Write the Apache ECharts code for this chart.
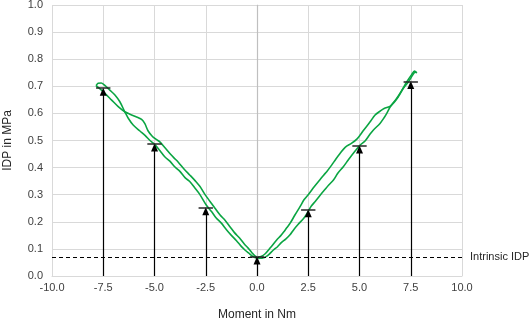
<!DOCTYPE html>
<html>
<head>
<meta charset="utf-8">
<script src="https://cdn.jsdelivr.net/npm/echarts@6/dist/echarts.min.js"></script>
<style>
html,body{margin:0;padding:0;background:#fff;}
#chart{width:532px;height:318px;}
</style>
</head>
<body>
<div id="chart"></div>
<script>
// Axis ranges / ticks
var xTicks = [-10, -7.5, -5, -2.5, 0, 2.5, 5, 7.5, 10];
var yTicks = [0, 0.1, 0.2, 0.3, 0.4, 0.5, 0.6, 0.7, 0.8, 0.9, 1.0];

// Inner (lower) loop branch: left tip -> bottom -> right tip  [moment Nm, IDP MPa]
var curveInner = [
  [-7.85, 0.702], [-7.75, 0.711], [-7.6, 0.712], [-7.45, 0.705], [-7.18, 0.686],
  [-6.93, 0.668], [-6.69, 0.643], [-6.45, 0.606], [-6.28, 0.582], [-6.04, 0.557],
  [-5.71, 0.535], [-5.45, 0.518], [-5.22, 0.500], [-4.98, 0.485], [-4.74, 0.463],
  [-4.5, 0.440], [-4.25, 0.424], [-4.0, 0.402], [-3.76, 0.386], [-3.5, 0.362],
  [-3.27, 0.348], [-3.0, 0.322], [-2.8, 0.302], [-2.46, 0.260], [-2.2, 0.236],
  [-2.0, 0.215], [-1.75, 0.196], [-1.48, 0.170], [-1.25, 0.150], [-1.0, 0.130],
  [-0.8, 0.112], [-0.59, 0.096], [-0.4, 0.084], [-0.2, 0.072], [0.0, 0.066],
  [0.25, 0.066], [0.5, 0.074], [0.8, 0.096], [1.0, 0.108], [1.2, 0.124],
  [1.4, 0.136], [1.61, 0.152], [1.8, 0.172], [2.0, 0.190], [2.3, 0.215],
  [2.45, 0.232], [2.63, 0.256], [2.85, 0.276], [3.08, 0.298], [3.3, 0.318],
  [3.5, 0.336], [3.73, 0.354], [3.95, 0.380], [4.21, 0.403], [4.45, 0.428],
  [4.7, 0.453], [5.03, 0.483], [5.27, 0.498], [5.5, 0.522], [5.68, 0.539],
  [6.0, 0.563], [6.2, 0.584], [6.33, 0.600], [6.53, 0.628], [6.82, 0.656],
  [7.07, 0.686], [7.31, 0.717], [7.55, 0.744], [7.68, 0.756], [7.8, 0.750]
];

// Outer (upper) loop branch: left tip -> bottom -> right tip
var curveOuter = [
  [-7.85, 0.702], [-7.7, 0.693], [-7.42, 0.674], [-7.09, 0.649], [-6.77, 0.625],
  [-6.45, 0.606], [-6.2, 0.597], [-5.9, 0.588], [-5.63, 0.578], [-5.47, 0.562],
  [-5.31, 0.535], [-5.1, 0.515], [-4.9, 0.503], [-4.74, 0.495], [-4.5, 0.474],
  [-4.25, 0.452], [-4.05, 0.436], [-3.84, 0.420], [-3.55, 0.394], [-3.27, 0.372],
  [-3.0, 0.350], [-2.78, 0.330], [-2.55, 0.302], [-2.29, 0.275], [-2.05, 0.250],
  [-1.8, 0.225], [-1.55, 0.205], [-1.32, 0.182], [-1.1, 0.160], [-0.85, 0.140],
  [-0.62, 0.118], [-0.42, 0.102], [-0.25, 0.086], [-0.1, 0.074], [0.05, 0.070],
  [0.2, 0.072], [0.4, 0.082], [0.65, 0.104], [0.96, 0.133], [1.15, 0.148],
  [1.3, 0.162], [1.45, 0.178], [1.61, 0.194], [1.85, 0.225], [2.1, 0.256],
  [2.3, 0.282], [2.5, 0.300], [2.8, 0.330], [3.08, 0.356], [3.25, 0.372],
  [3.4, 0.385], [3.65, 0.410], [3.85, 0.432], [4.05, 0.452], [4.3, 0.475],
  [4.62, 0.490], [4.87, 0.505], [5.05, 0.522], [5.19, 0.537], [5.5, 0.567],
  [5.76, 0.594], [6.0, 0.608], [6.2, 0.618], [6.53, 0.628], [6.9, 0.662],
  [7.14, 0.693], [7.39, 0.717], [7.6, 0.742], [7.71, 0.752], [7.8, 0.750]
];

// Arrow markers: moment and IDP value
var arrowX = [-7.5, -5.0, -2.5, 0.0, 2.5, 5.0, 7.5];
var arrowY = [0.693, 0.487, 0.252, 0.070, 0.245, 0.480, 0.718];

// Intrinsic IDP level
var intrinsicIDP = 0.07;
var intrinsicLabel = 'Intrinsic IDP';
var xName = 'Moment in Nm';
var yName = 'IDP in MPa';

var capHalf = 0.35;     // half-width of horizontal caps (in Nm)
var headLen = 0.013;    // arrowhead half-length (in MPa)

var arrowLines = [];
var capLines = [];
for (var i = 0; i < arrowX.length; i++) {
  arrowLines.push([{coord: [arrowX[i], 0]}, {coord: [arrowX[i], arrowY[i] - headLen]}]);
  capLines.push([{coord: [arrowX[i] - capHalf, arrowY[i]]}, {coord: [arrowX[i] + capHalf, arrowY[i]]}]);
}

var chart = echarts.init(document.getElementById('chart'), null, {renderer: 'canvas'});
var font = 'Liberation Sans, Arial, sans-serif';
var green = '#0aa542';

chart.setOption({
  animation: false,
  backgroundColor: '#ffffff',
  grid: {left: 52, right: 70, top: 5, bottom: 42, containLabel: false, outerBoundsMode: 'none'},
  xAxis: {
    type: 'value', min: xTicks[0], max: xTicks[xTicks.length - 1], interval: 2.5,
    name: xName, nameLocation: 'middle', nameGap: 33,
    nameTextStyle: {fontFamily: font, fontSize: 12, color: '#262626'},
    axisLine: {show: true, lineStyle: {color: '#d9d9d9', width: 1}},
    axisTick: {show: false},
    axisLabel: {fontFamily: font, fontSize: 11, color: '#404040', margin: 6,
      formatter: function (v) { return v.toFixed(1); }},
    splitLine: {show: true, lineStyle: {color: '#d9d9d9', width: 1}}
  },
  yAxis: {
    type: 'value', min: yTicks[0], max: yTicks[yTicks.length - 1], interval: 0.1,
    name: yName, nameLocation: 'middle', nameGap: 38, nameRotate: 90,
    nameTextStyle: {fontFamily: font, fontSize: 12, color: '#262626'},
    axisLine: {show: true, lineStyle: {color: '#d9d9d9', width: 1}},
    axisTick: {show: false},
    axisLabel: {fontFamily: font, fontSize: 11, color: '#404040', margin: 9,
      formatter: function (v) { return v.toFixed(1); }},
    splitLine: {show: true, lineStyle: {color: '#d9d9d9', width: 1}}
  },
  series: [
    {
      type: 'line', data: [], z: 1, silent: true,
      markLine: {
        silent: true, symbol: ['none', 'none'], animation: false,
        label: {show: false},
        lineStyle: {color: '#bfbfbf', type: 'solid', width: 1.2},
        data: [{xAxis: 0}]
      }
    },
    {
      type: 'line', data: curveInner, showSymbol: false, smooth: 0.3, z: 3,
      lineStyle: {color: green, width: 1.6}
    },
    {
      type: 'line', data: curveOuter, showSymbol: false, smooth: 0.3, z: 3,
      lineStyle: {color: green, width: 1.6}
    },
    {
      type: 'line', data: [], z: 4, silent: true,
      markLine: {
        silent: true, animation: false,
        symbol: ['none', 'none'],
        label: {show: true, position: 'end', formatter: intrinsicLabel,
          fontFamily: font, fontSize: 11, color: '#262626', distance: 8},
        lineStyle: {color: '#000000', type: [4, 3], width: 1},
        data: [{yAxis: intrinsicIDP}]
      }
    },
    {
      type: 'line', data: [], z: 5, silent: true,
      markLine: {
        silent: true, animation: false,
        symbol: ['none', 'triangle'], symbolSize: [7, 8],
        label: {show: false},
        lineStyle: {color: '#000000', type: 'solid', width: 1.2},
        itemStyle: {color: '#000000'},
        data: arrowLines
      }
    },
    {
      type: 'line', data: [], z: 5, silent: true,
      markLine: {
        silent: true, animation: false,
        symbol: ['none', 'none'],
        label: {show: false},
        lineStyle: {color: '#262626', type: 'solid', width: 1.5},
        data: capLines
      }
    }
  ]
});
</script>
</body>
</html>
